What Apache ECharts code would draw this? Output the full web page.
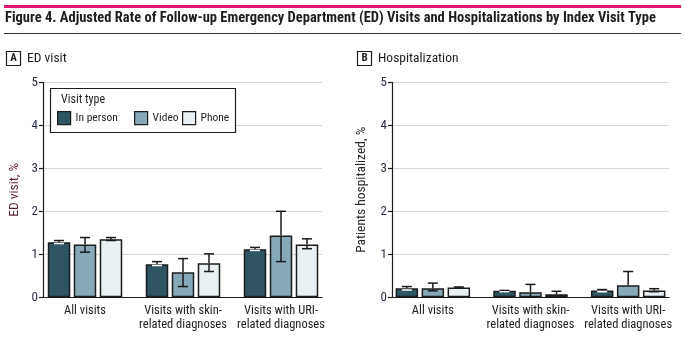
<!DOCTYPE html>
<html>
<head>
<meta charset="utf-8">
<script src="https://cdn.jsdelivr.net/npm/echarts@6/dist/echarts.min.js"></script>
<style>
  html, body { margin: 0; padding: 0; background: #fff; }
  #chart { width: 685px; height: 338px; }
</style>
</head>
<body>
<div id="chart"></div>
<script>
// Visit categories and visit types
const categories = ['All visits', 'Visits with skin-\nrelated diagnoses', 'Visits with URI-\nrelated diagnoses'];
const visitTypes = ['In person', 'Video', 'Phone'];
const yTicks = [0, 1, 2, 3, 4, 5];

// Panel A: ED visit, % (estimate, lower CI, upper CI) per category
const edInPerson = [1.28, 0.77, 1.12];
const edInPersonLo = [1.25, 0.74, 1.09];
const edInPersonHi = [1.32, 0.83, 1.16];
const edVideo = [1.23, 0.58, 1.44];
const edVideoLo = [1.05, 0.25, 0.83];
const edVideoHi = [1.39, 0.90, 2.00];
const edPhone = [1.35, 0.79, 1.23];
const edPhoneLo = [1.32, 0.60, 1.13];
const edPhoneHi = [1.39, 1.01, 1.36];

// Panel B: Patients hospitalized, % (null lower CI = only upper whisker shown)
const hospInPerson = [0.21, 0.15, 0.16];
const hospInPersonLo = [0.17, 0.13, 0.13];
const hospInPersonHi = [0.25, 0.16, 0.18];
const hospVideo = [0.21, 0.12, 0.28];
const hospVideoLo = [0.15, 0.00, null];
const hospVideoHi = [0.33, 0.30, 0.60];
const hospPhone = [0.23, 0.07, 0.16];
const hospPhoneLo = [0.21, null, 0.13];
const hospPhoneHi = [0.24, 0.14, 0.20];

const FONT = "'Liberation Sans Narrow', 'Roboto Condensed', 'Liberation Sans', sans-serif";
const COLORS = ['#2f5562', '#87a8b6', '#e9f0f3'];
const EDGE = '#1c1c1c';
const BAR_W = 22.5;
const BAR_STEP = 26;   // bar width plus gap between neighbouring bars

const chart = echarts.init(document.getElementById('chart'), null, { renderer: 'canvas' });

// Panel geometry: an "axis" grid carries the visible axes and gridlines,
// a "bar" grid lays out the category bands for the bars.
const panels = [
  { axisLeft: 43, axisRight: 363, barLeft: 36, barWidth: 294, yName: 'ED visit, %', yNameColor: '#5e1d38', yNameX: 15,
    values: [edInPerson, edVideo, edPhone], lo: [edInPersonLo, edVideoLo, edPhoneLo], hi: [edInPersonHi, edVideoHi, edPhoneHi] },
  { axisLeft: 392, axisRight: 16, barLeft: 384, barWidth: 293, yName: 'Patients hospitalized, %', yNameColor: '#2a2a2a', yNameX: 362,
    values: [hospInPerson, hospVideo, hospPhone], lo: [hospInPersonLo, hospVideoLo, hospPhoneLo], hi: [hospInPersonHi, hospVideoHi, hospPhoneHi] }
];

const TOP = 82.3, BOTTOM = 40.7;
const grid = [], xAxis = [], yAxis = [], series = [];

panels.forEach((p, pi) => {
  const gAxis = grid.length;
  grid.push({ left: p.axisLeft, right: p.axisRight, top: TOP, bottom: BOTTOM, containLabel: false });
  const gBar = grid.length;
  grid.push({ left: p.barLeft, width: p.barWidth, top: TOP, bottom: BOTTOM, containLabel: false });

  xAxis.push({ gridIndex: gAxis, type: 'value', min: 0, max: 1, show: true,
    axisLine: { show: true, onZero: false, lineStyle: { color: EDGE, width: 1.2 } },
    axisTick: { show: false }, axisLabel: { show: false }, splitLine: { show: false } });
  yAxis.push({ gridIndex: gAxis, type: 'value', min: yTicks[0], max: yTicks[yTicks.length - 1], interval: 1,
    axisLine: { show: true, lineStyle: { color: EDGE, width: 1.2 } },
    axisTick: { show: true, length: 4, lineStyle: { color: EDGE, width: 1.2 } },
    axisLabel: { color: '#2b2f44', fontFamily: FONT, fontSize: 13, margin: 5 },
    splitLine: { show: true, lineStyle: { color: '#d6d6d6', width: 1 } } });

  xAxis.push({ gridIndex: gBar, type: 'category', data: categories,
    axisLine: { show: false }, axisTick: { show: false },
    axisLabel: { color: '#1e1e1e', fontFamily: FONT, fontSize: 12.5, lineHeight: 14, margin: 7, interval: 0 } });
  yAxis.push({ gridIndex: gBar, type: 'value', min: 0, max: 5, show: false });

  const xi = xAxis.length - 1, yi = yAxis.length - 1;
  visitTypes.forEach((t, si) => {
    series.push({
      type: 'bar', name: t, xAxisIndex: xi, yAxisIndex: yi,
      data: p.values[si], barWidth: BAR_W, barGap: '15.5%',
      itemStyle: { color: COLORS[si], borderColor: EDGE, borderWidth: 1.5 },
      emphasis: { disabled: true }, z: 2
    });
  });

  // Confidence interval whiskers drawn over the bars
  visitTypes.forEach((t, si) => {
    const rows = p.values[si].map((v, ci) => [ci, v, p.lo[si][ci], p.hi[si][ci]]);
    series.push({
      type: 'custom', xAxisIndex: xi, yAxisIndex: yi, z: 5, silent: true,
      data: rows,
      encode: { x: 0, y: [1, 3] },
      renderItem: (params, api) => {
        const ci = api.value(0), v = api.value(1), lo = api.value(2), hi = api.value(3);
        const dx = (si - 1) * BAR_STEP;
        const top = api.coord([ci, hi]);
        const mid = api.coord([ci, v]);
        const x = top[0] + dx, cap = 5;
        const dark = { stroke: '#1a1a1a', lineWidth: 1.5 };
        const inner = { stroke: si === 0 ? '#ffffff' : '#1a1a1a', lineWidth: 1.5 };
        const children = [
          { type: 'line', shape: { x1: x, y1: top[1], x2: x, y2: mid[1] }, style: dark },
          { type: 'line', shape: { x1: x - cap, y1: top[1], x2: x + cap, y2: top[1] }, style: dark }
        ];
        if (lo !== null && lo !== undefined && !isNaN(lo)) {
          const bot = api.coord([ci, lo]);
          children.push({ type: 'line', shape: { x1: x, y1: mid[1] + 1, x2: x, y2: bot[1] }, style: inner });
          if (lo > 0) {
            children.push({ type: 'line', shape: { x1: x - cap, y1: bot[1], x2: x + cap, y2: bot[1] }, style: inner });
          }
        }
        return { type: 'group', children };
      }
    });
  });
});

// One legend entry per visit type, each placed in the legend frame
const legendLefts = [57, 134, 182];
const legend = visitTypes.map((t, i) => ({
  data: [t], left: legendLefts[i], top: 111, itemWidth: 13, itemHeight: 13,
  icon: 'rect', selectedMode: false, z: 10, padding: 0,
  itemStyle: { borderColor: EDGE, borderWidth: 1.2 },
  textStyle: { fontFamily: FONT, fontSize: 11.5, color: '#1e1e1e' }
}));

const option = {
  animation: false,
  backgroundColor: '#ffffff',
  grid, xAxis, yAxis, series, legend,
  graphic: [
    { type: 'rect', shape: { x: 4, y: 5, width: 677, height: 3 }, style: { fill: '#e2136e' } },
    { type: 'text', left: 5, top: 11, style: { text: 'Figure 4. Adjusted Rate of Follow-up Emergency Department (ED) Visits and Hospitalizations by Index Visit Type', fill: '#1e1e1e', font: 'bold 14.5px ' + FONT } },
    { type: 'rect', shape: { x: 4, y: 33, width: 677, height: 1 }, style: { fill: '#333' } },
    { type: 'rect', shape: { x: 6.5, y: 51.5, width: 14, height: 14 }, style: { fill: '#fff', stroke: '#1e1e1e', lineWidth: 1.2 } },
    { type: 'text', x: 13.5, y: 58.5, style: { text: 'A', fill: '#1e1e1e', font: 'bold 11px ' + FONT, align: 'center', verticalAlign: 'middle' } },
    { type: 'text', x: 27, y: 58.5, style: { text: 'ED visit', fill: '#1e1e1e', font: '13.5px ' + FONT, verticalAlign: 'middle' } },
    { type: 'rect', shape: { x: 357.5, y: 51.5, width: 14, height: 14 }, style: { fill: '#fff', stroke: '#1e1e1e', lineWidth: 1.2 } },
    { type: 'text', x: 364.5, y: 58.5, style: { text: 'B', fill: '#1e1e1e', font: 'bold 11px ' + FONT, align: 'center', verticalAlign: 'middle' } },
    { type: 'text', x: 378, y: 58.5, style: { text: 'Hospitalization', fill: '#1e1e1e', font: '13.5px ' + FONT, verticalAlign: 'middle' } },
    // Legend frame and heading
    { type: 'rect', z: 3, shape: { x: 50.5, y: 88.5, width: 185, height: 44 }, style: { fill: '#fff', stroke: '#1e1e1e', lineWidth: 1.2 } },
    { type: 'text', z: 4, x: 61, y: 100, style: { text: 'Visit type', fill: '#1e1e1e', font: '12px ' + FONT, verticalAlign: 'middle' } },
    // Rotated y-axis names
    ...panels.map(p => ({
      type: 'text', z: 4, x: p.yNameX, y: 189.8, rotation: Math.PI / 2,
      style: { text: p.yName, fill: p.yNameColor, font: '13.5px ' + FONT, align: 'center', verticalAlign: 'middle' }
    }))
  ]
};
chart.setOption(option);
</script>
</body>
</html>
